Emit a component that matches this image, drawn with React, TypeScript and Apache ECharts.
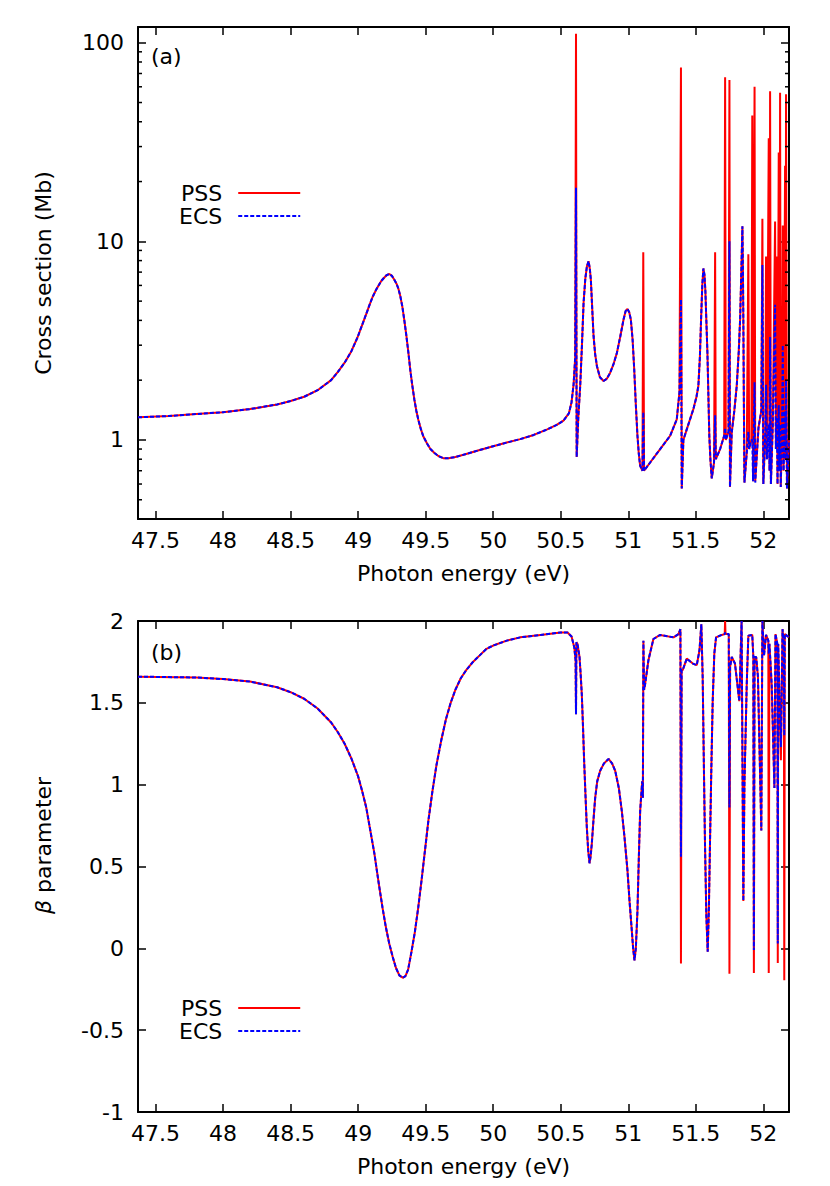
import React, { useEffect, useRef } from 'react';
import * as echarts from 'echarts';

const X_MIN = 47.37;
const X_MAX = 52.19;
const FONT = 'DejaVu Sans';
const SERIES_NAMES = ['PSS', 'ECS'];

// Panel (a): [photon energy (eV), PSS cross section (Mb), ECS cross section (Mb)]
const ROWS_A: number[][] = [
  [47.37, 1.3, 1.3], [47.6, 1.32, 1.32], [47.8, 1.35, 1.35], [48.0, 1.38, 1.38], [48.2, 1.43, 1.43],
  [48.4, 1.51, 1.51], [48.5, 1.57, 1.57], [48.6, 1.65, 1.65], [48.7, 1.78, 1.78], [48.8, 2.0, 2.0],
  [48.85, 2.2, 2.2], [48.9, 2.45, 2.45], [48.95, 2.8, 2.8], [48.995, 3.28, 3.28], [49.03, 3.8, 3.8],
  [49.061, 4.33, 4.33], [49.085, 4.8, 4.8], [49.106, 5.23, 5.23], [49.13, 5.65, 5.65], [49.15, 5.98, 5.98],
  [49.17, 6.3, 6.3], [49.187, 6.5, 6.5], [49.21, 6.75, 6.75], [49.231, 6.85, 6.85], [49.25, 6.7, 6.7],
  [49.268, 6.4, 6.4], [49.285, 6.1, 6.1], [49.297, 5.8, 5.8], [49.312, 5.3, 5.3], [49.327, 4.7, 4.7],
  [49.342, 4.0, 4.0], [49.357, 3.35, 3.35], [49.372, 2.75, 2.75], [49.386, 2.25, 2.25], [49.4, 1.9, 1.9],
  [49.416, 1.6, 1.6], [49.431, 1.4, 1.4], [49.446, 1.26, 1.26], [49.465, 1.13, 1.13], [49.483, 1.04, 1.04],
  [49.51, 0.96, 0.96], [49.535, 0.9, 0.9], [49.565, 0.86, 0.86], [49.594, 0.83, 0.83], [49.63, 0.81, 0.81],
  [49.67, 0.81, 0.81], [49.72, 0.82, 0.82], [49.8, 0.85, 0.85], [49.9, 0.89, 0.89], [50.0, 0.93, 0.93],
  [50.1, 0.97, 0.97], [50.2, 1.01, 1.01], [50.3, 1.06, 1.06], [50.4, 1.13, 1.13], [50.47, 1.19, 1.19],
  [50.52, 1.25, 1.25], [50.56, 1.36, 1.36], [50.58, 1.55, 1.55], [50.595, 1.9, 1.9], [50.607, 2.6, 2.6],
  [50.613, 111, 18.6], [50.618, 0.82, 0.82], [50.63, 1.3, 1.3], [50.644, 1.87, 1.87], [50.657, 3.0, 3.0],
  [50.669, 4.9, 4.9], [50.682, 6.5, 6.5], [50.694, 7.5, 7.5], [50.706, 7.94, 7.94], [50.715, 7.3, 7.3],
  [50.723, 6.4, 6.4], [50.733, 4.6, 4.6], [50.743, 3.33, 3.33], [50.755, 2.7, 2.7], [50.768, 2.35, 2.35],
  [50.79, 2.07, 2.07], [50.817, 1.98, 1.98], [50.84, 2.03, 2.03], [50.866, 2.18, 2.18], [50.89, 2.4, 2.4],
  [50.916, 2.75, 2.75], [50.94, 3.3, 3.3], [50.965, 4.04, 4.04], [50.98, 4.45, 4.45], [50.994, 4.57, 4.57],
  [51.007, 4.4, 4.4], [51.019, 4.04, 4.04], [51.032, 3.2, 3.2], [51.044, 2.27, 2.27], [51.056, 1.5, 1.5],
  [51.068, 1.05, 1.05], [51.078, 0.85, 0.85], [51.088, 0.74, 0.74], [51.105, 0.7, 0.7], [51.111, 8.8, 1.38],
  [51.117, 0.7, 0.7], [51.162, 0.77, 0.77], [51.236, 0.9, 0.9], [51.31, 1.05, 1.05], [51.359, 1.27, 1.27],
  [51.379, 1.74, 1.74], [51.39, 75, 5.1], [51.396, 0.57, 0.57], [51.408, 1.0, 1.0], [51.433, 1.13, 1.13],
  [51.482, 1.43, 1.43], [51.505, 1.65, 1.65], [51.519, 1.87, 1.87], [51.53, 2.6, 2.6], [51.539, 4.04, 4.04],
  [51.548, 6.0, 6.0], [51.556, 7.3, 7.3], [51.564, 6.8, 6.8], [51.571, 5.6, 5.6], [51.578, 4.0, 4.0],
  [51.586, 2.75, 2.75], [51.593, 1.7, 1.7], [51.6, 1.05, 1.05], [51.608, 0.8, 0.8], [51.618, 0.64, 0.64],
  [51.635, 0.77, 0.77], [51.643, 8.8, 1.33], [51.648, 0.8, 0.8], [51.68, 0.9, 0.9], [51.71, 1.05, 1.05],
  [51.717, 67, 1.15], [51.722, 1.0, 1.0], [51.742, 1.1, 1.1], [51.749, 65, 10], [51.753, 0.58, 0.58],
  [51.766, 1.09, 1.09], [51.785, 1.4, 1.4], [51.803, 1.87, 1.87], [51.818, 2.8, 2.8], [51.828, 4.04, 4.04],
  [51.837, 7.0, 7.0], [51.845, 11.9, 11.9], [51.849, 7.0, 7.0], [51.852, 4.0, 4.0], [51.856, 1.5, 1.5],
  [51.86, 0.61, 0.61], [51.877, 0.86, 0.86], [51.889, 8.6, 1.1], [51.895, 0.9, 0.9], [51.912, 1.0, 1.0],
  [51.918, 43, 1.0], [51.924, 0.62, 0.62], [51.935, 60, 1.95], [51.94, 0.62, 0.61], [51.964, 1.15, 1.15],
  [51.985, 1.4, 1.4], [51.993, 13, 7.6], [52.0, 0.6, 0.6], [52.015, 1.1, 1.1], [52.02, 8.4, 1.9],
  [52.026, 0.8, 0.8], [52.04, 33, 1.2], [52.046, 0.7, 0.7], [52.05, 57, 3.3], [52.056, 0.6, 0.6],
  [52.07, 1.2, 1.2], [52.087, 12.6, 4.8], [52.093, 0.9, 0.9], [52.1, 8.4, 1.3], [52.105, 0.6, 0.6],
  [52.114, 28, 1.5], [52.119, 0.7, 0.7], [52.124, 56, 1.2], [52.129, 0.58, 0.58], [52.138, 1.1, 1.1],
  [52.144, 12, 3.0], [52.15, 0.7, 0.7], [52.161, 24, 1.4], [52.165, 0.8, 0.8], [52.168, 55, 2.0],
  [52.175, 0.57, 0.57], [52.19, 1.0, 1.0],
];

// Panel (b): [photon energy (eV), PSS beta, ECS beta]
const ROWS_B: number[][] = [
  [47.37, 1.66, 1.66], [47.8, 1.655, 1.655], [48.0, 1.645, 1.645], [48.2, 1.63, 1.63], [48.4, 1.595, 1.595],
  [48.5, 1.565, 1.565], [48.6, 1.525, 1.525], [48.7, 1.465, 1.465], [48.8, 1.38, 1.38], [48.85, 1.32, 1.32],
  [48.9, 1.25, 1.25], [48.95, 1.16, 1.16], [49.0, 1.05, 1.05], [49.03, 0.96, 0.96], [49.06, 0.86, 0.86],
  [49.09, 0.72, 0.72], [49.12, 0.58, 0.58], [49.15, 0.41, 0.41], [49.18, 0.25, 0.25], [49.205, 0.13, 0.13],
  [49.23, 0.03, 0.03], [49.255, -0.05, -0.05], [49.28, -0.12, -0.12], [49.305, -0.165, -0.165],
  [49.33, -0.18, -0.18], [49.35, -0.17, -0.17], [49.37, -0.13, -0.13], [49.395, -0.02, -0.02],
  [49.42, 0.1, 0.1], [49.445, 0.25, 0.25], [49.47, 0.42, 0.42], [49.495, 0.6, 0.6], [49.52, 0.78, 0.78],
  [49.55, 0.96, 0.96], [49.58, 1.12, 1.12], [49.615, 1.27, 1.27], [49.65, 1.4, 1.4], [49.685, 1.5, 1.5],
  [49.72, 1.58, 1.58], [49.76, 1.65, 1.65], [49.8, 1.7, 1.7], [49.85, 1.75, 1.75], [49.9, 1.79, 1.79],
  [49.95, 1.83, 1.83], [50.0, 1.85, 1.85], [50.1, 1.88, 1.88], [50.2, 1.9, 1.9], [50.35, 1.915, 1.915],
  [50.5, 1.93, 1.93], [50.55, 1.93, 1.93], [50.58, 1.905, 1.905], [50.6, 1.84, 1.84], [50.61, 1.76, 1.76],
  [50.613, 1.43, 1.43], [50.616, 1.87, 1.87], [50.624, 1.86, 1.86], [50.639, 1.78, 1.78], [50.647, 1.68, 1.68],
  [50.656, 1.55, 1.55], [50.665, 1.35, 1.35], [50.673, 1.15, 1.15], [50.683, 0.94, 0.94], [50.693, 0.74, 0.74],
  [50.703, 0.6, 0.6], [50.713, 0.52, 0.52], [50.721, 0.56, 0.56], [50.73, 0.64, 0.64], [50.742, 0.78, 0.78],
  [50.755, 0.92, 0.92], [50.77, 1.02, 1.02], [50.792, 1.085, 1.085], [50.82, 1.13, 1.13], [50.854, 1.157, 1.157],
  [50.88, 1.13, 1.13], [50.903, 1.085, 1.085], [50.93, 0.98, 0.98], [50.952, 0.84, 0.84], [50.972, 0.68, 0.68],
  [50.994, 0.476, 0.476], [51.01, 0.28, 0.28], [51.026, 0.11, 0.11], [51.036, 0.0, 0.0], [51.046, -0.073, -0.073],
  [51.056, 0.0, 0.0], [51.068, 0.23, 0.23], [51.078, 0.55, 0.55], [51.088, 0.84, 0.84], [51.103, 1.02, 1.02],
  [51.108, 0.92, 0.92], [51.112, 1.88, 1.88], [51.117, 1.58, 1.58], [51.124, 1.61, 1.61], [51.149, 1.76, 1.76],
  [51.186, 1.89, 1.89], [51.236, 1.915, 1.915], [51.335, 1.9, 1.9], [51.372, 1.92, 1.92], [51.386, 1.95, 1.95],
  [51.39, -0.093, 0.56], [51.395, 1.7, 1.7], [51.403, 1.7, 1.7], [51.433, 1.77, 1.77], [51.478, 1.74, 1.74],
  [51.507, 1.73, 1.73], [51.527, 1.82, 1.82], [51.541, 1.98, 1.98], [51.551, 1.65, 1.65], [51.56, 1.1, 1.1],
  [51.568, 0.64, 0.64], [51.578, 0.2, 0.2], [51.588, -0.02, -0.02], [51.597, 0.25, 0.25], [51.605, 0.64, 0.64],
  [51.615, 1.1, 1.1], [51.625, 1.51, 1.51], [51.637, 1.8, 1.8], [51.65, 1.9, 1.9], [51.692, 1.915, 1.915],
  [51.714, 1.92, 1.92], [51.717, 2.0, 1.93], [51.72, 1.92, 1.92], [51.744, 1.92, 1.92], [51.749, -0.155, 0.86],
  [51.754, 1.72, 1.72], [51.766, 1.78, 1.78], [51.79, 1.74, 1.74], [51.822, 1.51, 1.51], [51.839, 2.0, 2.0],
  [51.852, 0.29, 0.29], [51.86, 1.0, 1.0], [51.877, 1.61, 1.61], [51.889, 1.91, 1.91], [51.918, 1.915, 1.915],
  [51.926, 1.78, 1.78], [51.93, -0.15, -0.01], [51.935, 1.78, 1.78], [51.947, 1.78, 1.78], [51.96, 1.66, 1.66],
  [51.985, 0.72, 0.72], [51.993, 2.0, 2.0], [52.005, 1.79, 1.79], [52.02, 1.915, 1.915], [52.037, 1.88, 1.88],
  [52.04, -0.15, 1.8], [52.045, 1.86, 1.86], [52.062, 1.61, 1.61], [52.082, 0.98, 0.98], [52.09, 1.92, 1.92],
  [52.104, 1.86, 1.86], [52.107, -0.09, 0.03], [52.11, 1.86, 1.86], [52.13, 1.15, 1.23], [52.142, 1.95, 1.95],
  [52.152, 1.85, 1.85], [52.155, -0.195, 1.3], [52.159, 1.92, 1.92], [52.19, 1.9, 1.9],
];

const LOG_MINOR_TICKS = [0.5, 0.6, 0.7, 0.8, 0.9, 2, 3, 4, 5, 6, 7, 8, 9, 20, 30, 40, 50, 60, 70, 80, 90];

const col = (rows: number[][], k: number) => rows.map((r) => [r[0], r[k]]);

export default function App() {
  const ref = useRef<HTMLDivElement>(null);
  useEffect(() => {
    if (!ref.current) return;
    const chart = echarts.init(ref.current, undefined, { renderer: 'svg' });
    const black = '#000';
    const txt = { color: black, fontFamily: FONT, fontSize: 22 };
    const tickStyle = { show: true, inside: true, length: 8, lineStyle: { color: black, width: 1.5 } };
    const lineAx = { show: true, onZero: false, lineStyle: { color: black, width: 2 } };
    const xFmt = (v: number) => (Math.abs(v * 2 - Math.round(v * 2)) < 1e-6 ? String(v) : '');
    const logFmt = (v: number) => {
      const l = Math.log10(v);
      return Math.abs(l - Math.round(l)) < 1e-6 ? String(Math.round(v)) : '';
    };
    const xAxisBase = (grid: number, pos: 'top' | 'bottom') => ({
      type: 'value',
      gridIndex: grid,
      position: pos,
      min: X_MIN,
      max: X_MAX,
      splitNumber: 10,
      axisLine: lineAx,
      axisTick: tickStyle,
      splitLine: { show: false },
      axisLabel:
        pos === 'bottom'
          ? { ...txt, margin: 10, formatter: xFmt, showMinLabel: false, showMaxLabel: false }
          : { show: false },
      name: pos === 'bottom' ? 'Photon energy (eV)' : '',
      nameLocation: 'middle',
      nameGap: 43,
      nameTextStyle: txt,
    });
    const logY = (pos: 'left' | 'right') => ({
      type: 'log',
      logBase: 10,
      gridIndex: 0,
      position: pos,
      min: 0.4,
      max: 120,
      axisLine: lineAx,
      axisTick: tickStyle,
      minorTick: { show: false },
      splitLine: { show: false },
      axisLabel:
        pos === 'left'
          ? { ...txt, margin: 14, formatter: logFmt, showMinLabel: false, showMaxLabel: false }
          : { show: false },
      name: pos === 'left' ? 'Cross section (Mb)' : '',
      nameLocation: 'middle',
      nameGap: 84,
      nameTextStyle: txt,
    });
    const betaY = (pos: 'left' | 'right') => ({
      type: 'value',
      gridIndex: 1,
      position: pos,
      min: -1,
      max: 2,
      interval: 0.5,
      axisLine: lineAx,
      axisTick: tickStyle,
      splitLine: { show: false },
      axisLabel: pos === 'left' ? { ...txt, margin: 14 } : { show: false },
      name: pos === 'left' ? '{b|β} parameter' : '',
      nameLocation: 'middle',
      nameGap: 84,
      nameTextStyle: { ...txt, padding: [0, 0, 0, 42], rich: { b: { ...txt, fontStyle: 'italic' } } },
    });
    const pss = (xi: number, yi: number, data: number[][]) => ({
      name: SERIES_NAMES[0],
      type: 'line',
      xAxisIndex: xi,
      yAxisIndex: yi,
      data,
      symbol: 'none',
      showSymbol: false,
      lineStyle: { color: '#ff0000', width: 2 },
      itemStyle: { color: '#ff0000' },
      z: 2,
    });
    const ecs = (xi: number, yi: number, data: number[][]) => ({
      name: SERIES_NAMES[1],
      type: 'line',
      xAxisIndex: xi,
      yAxisIndex: yi,
      data,
      symbol: 'none',
      showSymbol: false,
      lineStyle: { color: '#0000ff', width: 2, type: [4, 2] },
      itemStyle: { color: '#0000ff' },
      z: 3,
    });
    const legendBase = (top: number) => ({
      data: SERIES_NAMES,
      orient: 'vertical',
      align: 'right',
      left: 179,
      top,
      padding: 0,
      itemWidth: 62,
      itemHeight: 14,
      itemGap: 1,
      selectedMode: false,
      itemStyle: { color: 'transparent', borderWidth: 0, opacity: 0 },
      textStyle: { ...txt, lineHeight: 21, padding: [0, 11, 0, 0] },
    });
    const option: any = {
      animation: false,
      backgroundColor: '#fff',
      textStyle: { fontFamily: FONT },
      grid: [
        { left: 138, right: 41, top: 27, height: 492, containLabel: false },
        { left: 138, right: 41, top: 621, height: 491, containLabel: false },
      ],
      xAxis: [xAxisBase(0, 'bottom'), xAxisBase(0, 'top'), xAxisBase(1, 'bottom'), xAxisBase(1, 'top')],
      yAxis: [logY('left'), logY('right'), betaY('left'), betaY('right')],
      legend: [legendBase(182), legendBase(997)],
      graphic: [
        { type: 'text', left: 151, top: 45, style: { text: '(a)', fill: black, font: `22px "${FONT}"` } },
        { type: 'text', left: 151, top: 641, style: { text: '(b)', fill: black, font: `22px "${FONT}"` } },
      ],
      series: [
        pss(0, 0, col(ROWS_A, 1)),
        ecs(0, 0, col(ROWS_A, 2)),
        pss(2, 2, col(ROWS_B, 1)),
        ecs(2, 2, col(ROWS_B, 2)),
        {
          type: 'custom',
          name: 'minor ticks',
          xAxisIndex: 0,
          yAxisIndex: 0,
          silent: true,
          clip: false,
          data: LOG_MINOR_TICKS.map((v) => [X_MIN, v]),
          renderItem: (_p: any, api: any) => {
            const v = api.value(1);
            const l = api.coord([X_MIN, v]);
            const r = api.coord([X_MAX, v]);
            const st = { stroke: black, lineWidth: 1.5 };
            return {
              type: 'group',
              children: [
                { type: 'line', shape: { x1: l[0], y1: l[1], x2: l[0] + 4, y2: l[1] }, style: st },
                { type: 'line', shape: { x1: r[0] - 4, y1: r[1], x2: r[0], y2: r[1] }, style: st },
              ],
            };
          },
          z: 5,
        },
      ],
    };
    chart.setOption(option);
    return () => chart.dispose();
  }, []);
  return <div ref={ref} style={{ position: 'absolute', left: 0, top: 0, width: 830, height: 1186, background: '#fff' }} />;
}
